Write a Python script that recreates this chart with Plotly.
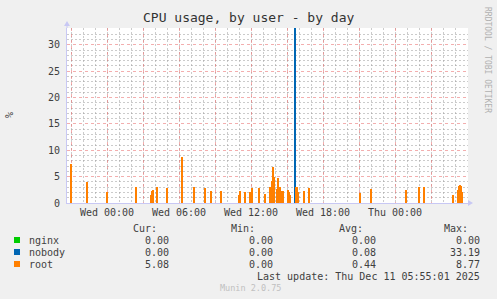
import plotly.graph_objects as go

# ---------------- data ----------------
series_names = ["nginx", "nobody", "root"]
series_colors = ["#00CC00", "#0066B3", "#FF8000"]

nginx_time = []
nginx_val = []

nobody_time = ["2025-12-10 15:40"]
nobody_val = [33.19]

root_time = [
    "2025-12-09 21:00", "2025-12-09 22:20", "2025-12-10 00:00", "2025-12-10 02:25",
    "2025-12-10 03:40", "2025-12-10 03:45", "2025-12-10 03:50", "2025-12-10 04:10",
    "2025-12-10 05:00", "2025-12-10 06:15", "2025-12-10 07:15", "2025-12-10 08:10",
    "2025-12-10 08:40", "2025-12-10 09:30", "2025-12-10 11:00", "2025-12-10 11:05",
    "2025-12-10 11:30", "2025-12-10 11:55", "2025-12-10 12:05", "2025-12-10 12:40",
    "2025-12-10 13:10", "2025-12-10 13:35", "2025-12-10 13:45", "2025-12-10 13:50",
    "2025-12-10 13:55", "2025-12-10 14:10", "2025-12-10 14:15", "2025-12-10 14:20",
    "2025-12-10 14:25", "2025-12-10 14:30", "2025-12-10 14:40", "2025-12-10 15:05",
    "2025-12-10 15:10", "2025-12-10 15:15", "2025-12-10 15:45", "2025-12-10 15:50",
    "2025-12-10 15:55", "2025-12-10 16:25", "2025-12-10 16:50", "2025-12-10 21:05",
    "2025-12-10 22:00", "2025-12-11 00:55", "2025-12-11 02:00", "2025-12-11 02:25",
    "2025-12-11 04:50", "2025-12-11 05:15", "2025-12-11 05:20", "2025-12-11 05:25",
    "2025-12-11 05:30", "2025-12-11 05:35",
]
root_val = [
    7.4, 4.0, 2.1, 3.1,
    1.5, 2.3, 2.5, 3.1,
    2.8, 8.77, 3.0, 2.8,
    2.2, 2.3, 1.6, 2.2,
    2.0, 2.0, 2.8, 2.9,
    1.7, 3.1, 4.2, 6.9,
    5.0, 2.7, 4.7, 2.5,
    3.0, 2.3, 2.2, 2.5,
    2.0, 1.5, 3.0, 3.1,
    2.0, 2.3, 2.8, 1.9,
    2.7, 2.5, 3.1, 3.1,
    1.6, 2.5, 3.3, 3.4,
    3.3, 2.0,
]

stats_cur = ["0.00", "0.00", "5.08"]
stats_min = ["0.00", "0.00", "0.00"]
stats_avg = ["0.00", "0.08", "0.44"]
stats_max = ["0.00", "33.19", "8.77"]

x_range = ["2025-12-09 20:40", "2025-12-11 06:05"]
y_range = [0, 33.19]
tick_times = ["2025-12-09 21:00", "2025-12-10 00:00", "2025-12-10 03:00", "2025-12-10 06:00",
              "2025-12-10 09:00", "2025-12-10 12:00", "2025-12-10 15:00", "2025-12-10 18:00",
              "2025-12-10 21:00", "2025-12-11 00:00", "2025-12-11 03:00", "2025-12-11 06:00"]
tick_text = ["", "Wed 00:00", "", "Wed 06:00", "", "Wed 12:00", "", "Wed 18:00",
             "", "Thu 00:00", "", ""]

# ---------------- figure ----------------
W, H = 497, 299
L, R, T, B = 67, 468, 28, 203
FONT = "DejaVu Sans Mono"
TXT = "#404040"

def px(x):
    return (x - L) / (R - L)

def py(y):
    return (B - y) / (B - T)

fig = go.Figure()
bar_w = 4 * 60 * 1000
for name, color, xs, ys in zip(series_names, series_colors,
                               [nginx_time, nobody_time, root_time],
                               [nginx_val, nobody_val, root_val]):
    fig.add_trace(go.Bar(x=xs, y=ys, name=name, width=bar_w,
                         marker=dict(color=color, line=dict(width=0)),
                         showlegend=False))

ann = []
ann.append(dict(x=px(248), y=py(18), text="CPU usage, by user - by day", showarrow=False,
                xref="paper", yref="paper", xanchor="center", yanchor="middle",
                font=dict(family=FONT, size=13, color="#333333")))
ann.append(dict(x=px(9), y=py(115), text="%", textangle=-90, showarrow=False,
                xref="paper", yref="paper", xanchor="center", yanchor="middle",
                font=dict(family=FONT, size=10, color=TXT)))
ann.append(dict(x=px(488), y=py(60), text="RRDTOOL / TOBI OETIKER", textangle=90, showarrow=False,
                xref="paper", yref="paper", xanchor="center", yanchor="middle",
                font=dict(family=FONT, size=8, color="#B0B0B0")))

def text_at(x, y, s, anchor="right", size=10, color=TXT):
    ann.append(dict(x=px(x), y=py(y), text=s, showarrow=False, xref="paper", yref="paper",
                    xanchor=anchor, yanchor="middle", font=dict(family=FONT, size=size, color=color)))

head_y = 228
for label, xr in [("Cur:", 159), ("Min:", 257), ("Avg:", 365), ("Max:", 470)]:
    text_at(xr, head_y, label)

row_y = [240, 252, 264]
shapes = []
for i, name in enumerate(series_names):
    yy = row_y[i]
    text_at(27, yy, name, anchor="left")
    text_at(171, yy, stats_cur[i])
    text_at(275, yy, stats_min[i])
    text_at(378, yy, stats_avg[i])
    text_at(482, yy, stats_max[i])
    shapes.append(dict(type="rect", xref="paper", yref="paper",
                       x0=px(14), x1=px(20), y0=py(yy - 3), y1=py(yy + 3),
                       fillcolor=series_colors[i], line=dict(width=0)))

text_at(482, 276, "Last update: Thu Dec 11 05:55:01 2025")
text_at(218, 288, "Munin 2.0.75", anchor="left", size=8.5, color="#C0C0C0")

axis_col = "#C8C8F4"
shapes.append(dict(type="path", xref="paper", yref="paper",
                   path=f"M {px(468)} {py(200)} L {px(473)} {py(203)} L {px(468)} {py(206)} Z",
                   fillcolor=axis_col, line=dict(width=0)))
shapes.append(dict(type="path", xref="paper", yref="paper",
                   path=f"M {px(64)} {py(26)} L {px(67)} {py(21)} L {px(70)} {py(26)} Z",
                   fillcolor=axis_col, line=dict(width=0)))
shapes.append(dict(type="line", xref="paper", yref="paper",
                   x0=0, x1=0, y0=1, y1=py(25), line=dict(color=axis_col, width=1)))

major_grid = "rgba(235,120,120,0.6)"
minor_grid = "rgba(160,160,160,0.55)"

fig.update_layout(
    width=W, height=H,
    margin=dict(l=L, r=W - R, t=T, b=H - B, pad=0),
    paper_bgcolor="#F0F0F0", plot_bgcolor="#FFFFFF",
    barmode="overlay", bargap=0,
    annotations=ann, shapes=shapes,
    font=dict(family=FONT, size=10, color=TXT),
    xaxis=dict(type="date", range=x_range, tickvals=tick_times, ticktext=tick_text,
               showgrid=True, gridcolor=major_grid, griddash="dot", gridwidth=1,
               showline=True, linecolor=axis_col, linewidth=1, zeroline=False,
               ticks="", tickfont=dict(family=FONT, size=10, color=TXT),
               minor=dict(dtick=3600000, tick0="2025-12-10 00:00", showgrid=True,
                          gridcolor=minor_grid, griddash="2px,2px", gridwidth=1, ticks=""),
               fixedrange=True),
    yaxis=dict(range=y_range, dtick=5, tick0=0,
               showgrid=True, gridcolor=major_grid, griddash="dot", gridwidth=1,
               showline=True, linecolor=axis_col, linewidth=1, zeroline=False,
               ticks="", ticklabelstandoff=4, tickfont=dict(family=FONT, size=10, color=TXT),
               minor=dict(dtick=1, showgrid=True, gridcolor=minor_grid, griddash="2px,2px",
                          gridwidth=1, ticks=""),
               fixedrange=True),
)

fig.write_html("out.html")
